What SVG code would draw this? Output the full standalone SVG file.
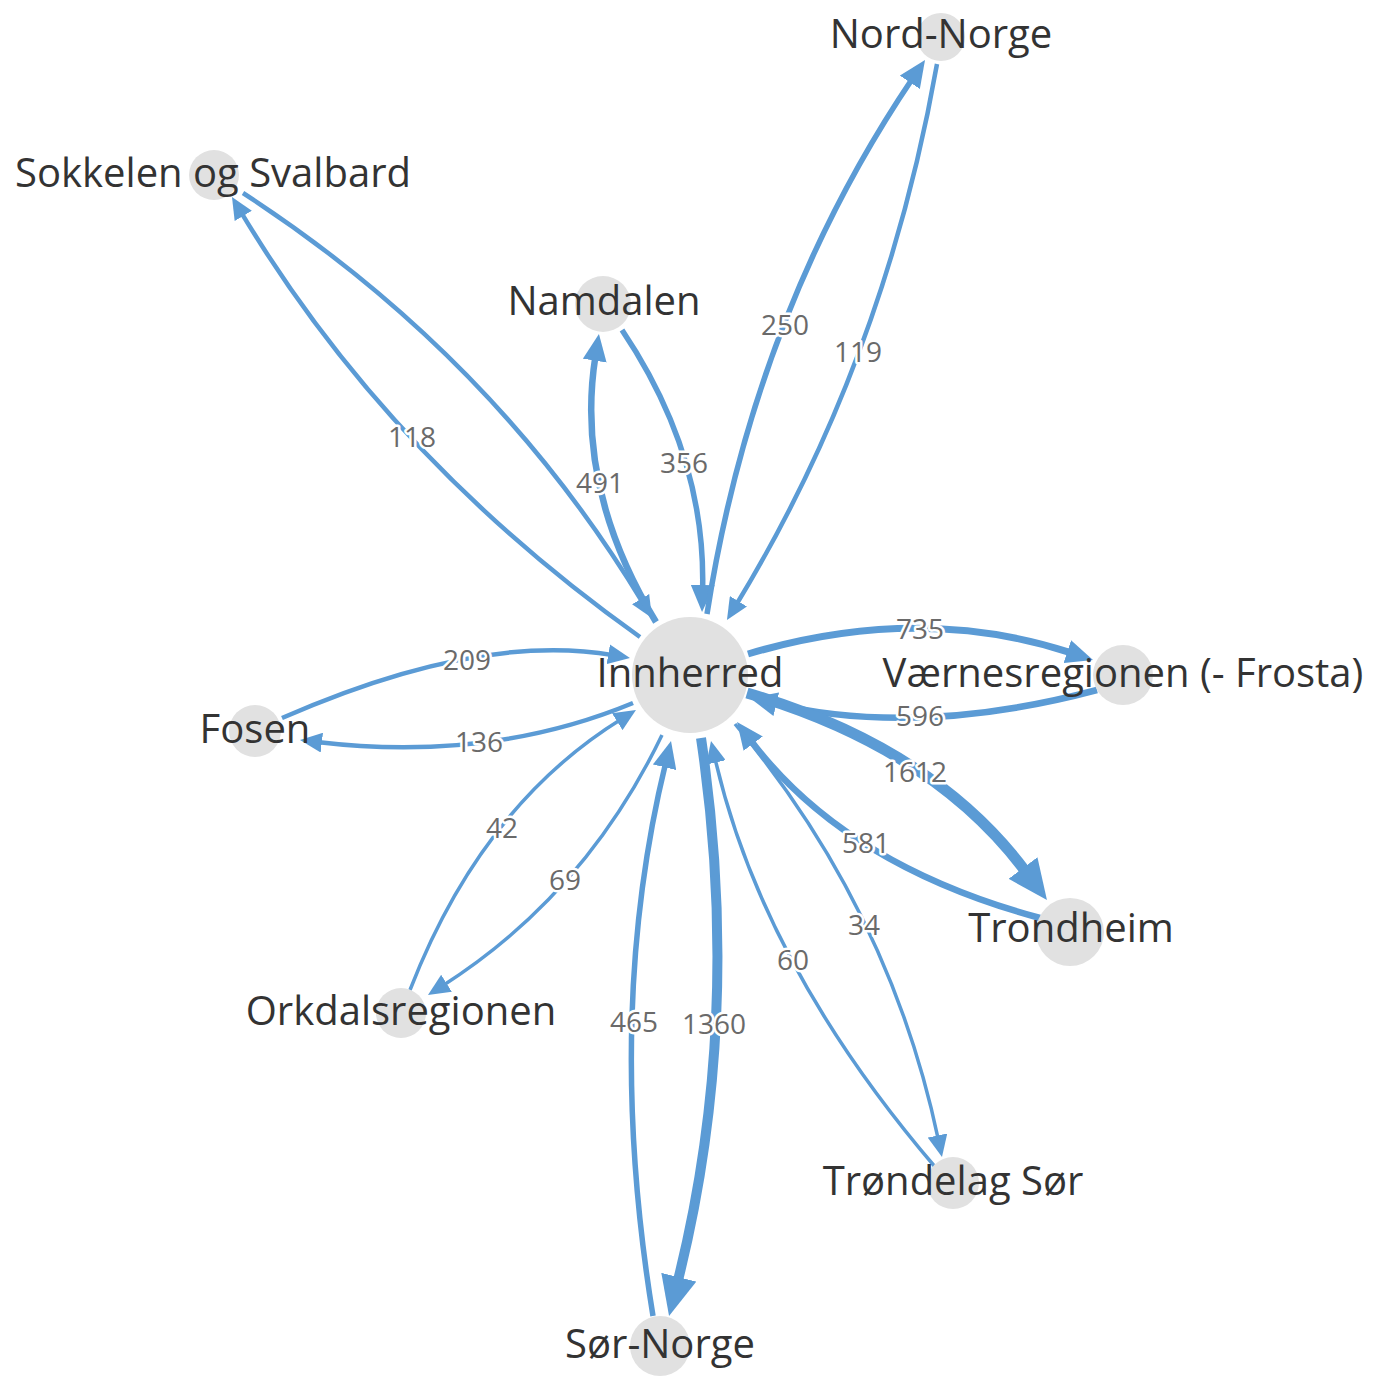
<svg xmlns="http://www.w3.org/2000/svg" width="1373" height="1376" viewBox="0 0 1373 1376">
<style>
.edge{fill:none;stroke:#5B9BD5;stroke-linecap:butt}
.elabel{font-family:"Open Sans","Liberation Sans",sans-serif;font-size:28px;fill:#6a6a6a;text-anchor:middle;stroke:#fff;stroke-width:5px;paint-order:stroke;stroke-linejoin:round}
.node circle{fill:#E1E1E1}
.node text{font-family:"Open Sans","Liberation Sans",sans-serif;font-size:40px;fill:#333;text-anchor:middle}
</style>
<defs>
<marker id="as" markerUnits="userSpaceOnUse" markerWidth="22" markerHeight="20" refX="5" refY="10" orient="auto"><path d="M0,0 L22,10 L0,20 z" fill="#5B9BD5"/></marker>
<marker id="am" markerUnits="userSpaceOnUse" markerWidth="27" markerHeight="24" refX="5" refY="12" orient="auto"><path d="M0,0 L27,12 L0,24 z" fill="#5B9BD5"/></marker>
<marker id="al" markerUnits="userSpaceOnUse" markerWidth="40" markerHeight="36" refX="4" refY="18" orient="auto"><path d="M0,0 L40,18 L0,36 z" fill="#5B9BD5"/></marker>
</defs>
<rect width="1373" height="1376" fill="#fff"/>
<g id="connectors">
<path class="edge" stroke-width="4.5" marker-end="url(#as)" d="M640,637 Q388,458 240.7,211.6"/>
<path class="edge" stroke-width="4.5" marker-end="url(#as)" d="M243,193 Q494,356 643.2,603.4"/>
<path class="edge" stroke-width="6.5" marker-end="url(#am)" d="M656,622 Q574.5,488 595.5,355.7"/>
<path class="edge" stroke-width="5.5" marker-end="url(#am)" d="M622,330 Q706,455 702.6,590"/>
<path class="edge" stroke-width="5.5" marker-end="url(#am)" d="M707,614 Q754,313 912.7,78.2"/>
<path class="edge" stroke-width="4.5" marker-end="url(#as)" d="M937,64 Q884.5,361.5 735.8,605.5"/>
<path class="edge" stroke-width="7" marker-end="url(#am)" d="M748,654 Q919.5,603 1072.1,653.1"/>
<path class="edge" stroke-width="6.5" marker-end="url(#am)" d="M1097,690 Q916.5,738 771.4,703.1"/>
<path class="edge" stroke-width="11" marker-end="url(#al)" d="M747,693 Q933,747.5 1025.4,871.2"/>
<path class="edge" stroke-width="6.5" marker-end="url(#am)" d="M1040,918 Q844,865 750.2,739.6"/>
<path class="edge" stroke-width="3.5" marker-end="url(#as)" d="M735,724 Q890,909 938.5,1140.4"/>
<path class="edge" stroke-width="3.5" marker-end="url(#as)" d="M936,1168 Q762.5,965.5 714.8,757.6"/>
<path class="edge" stroke-width="10" marker-end="url(#al)" d="M701,738 Q743,1021 677.8,1281.1"/>
<path class="edge" stroke-width="5.5" marker-end="url(#am)" d="M653,1316 Q604,1015.5 665.8,762.4"/>
<path class="edge" stroke-width="3.5" marker-end="url(#as)" d="M662,735 Q585,895 442.3,985.9"/>
<path class="edge" stroke-width="3.5" marker-end="url(#as)" d="M410,990 Q481,806 621.5,719"/>
<path class="edge" stroke-width="4.5" marker-end="url(#as)" d="M282,718 Q478,632 613.2,655.1"/>
<path class="edge" stroke-width="4.5" marker-end="url(#as)" d="M633,703 Q489.5,762.5 316.9,742"/>
<text class="elabel" x="412" y="447">118</text>
<text class="elabel" x="600" y="493">491</text>
<text class="elabel" x="684" y="473">356</text>
<text class="elabel" x="785" y="335">250</text>
<text class="elabel" x="858" y="362">119</text>
<text class="elabel" x="920" y="639">735</text>
<text class="elabel" x="920" y="726">596</text>
<text class="elabel" x="915" y="782">1612</text>
<text class="elabel" x="866" y="853">581</text>
<text class="elabel" x="864" y="935">34</text>
<text class="elabel" x="793" y="970">60</text>
<text class="elabel" x="714" y="1034">1360</text>
<text class="elabel" x="634" y="1032">465</text>
<text class="elabel" x="565" y="890">69</text>
<text class="elabel" x="502" y="838">42</text>
<text class="elabel" x="467" y="670">209</text>
<text class="elabel" x="479" y="752">136</text>
</g>
<g id="node-innherred" class="node"><circle cx="690" cy="675" r="58"/><text x="690" y="687">Innherred</text></g>
<g id="node-nord-norge" class="node"><circle cx="941" cy="37" r="24"/><text x="941" y="48">Nord-Norge</text></g>
<g id="node-sokkelen" class="node"><circle cx="214" cy="175" r="25"/><text x="213" y="187">Sokkelen og Svalbard</text></g>
<g id="node-namdalen" class="node"><circle cx="603" cy="304" r="28"/><text x="604" y="315">Namdalen</text></g>
<g id="node-vaernes" class="node"><circle cx="1123" cy="675" r="30"/><text x="1123" y="687">Værnesregionen (- Frosta)</text></g>
<g id="node-fosen" class="node"><circle cx="255" cy="731" r="26"/><text x="255" y="743">Fosen</text></g>
<g id="node-trondheim" class="node"><circle cx="1070" cy="932" r="34"/><text x="1071" y="942">Trondheim</text></g>
<g id="node-orkdal" class="node"><circle cx="401" cy="1013" r="25"/><text x="401" y="1025">Orkdalsregionen</text></g>
<g id="node-trondelag-sor" class="node"><circle cx="953" cy="1183" r="26"/><text x="953" y="1195">Trøndelag Sør</text></g>
<g id="node-sor-norge" class="node"><circle cx="660" cy="1346" r="30"/><text x="660" y="1358">Sør-Norge</text></g>
</svg>
